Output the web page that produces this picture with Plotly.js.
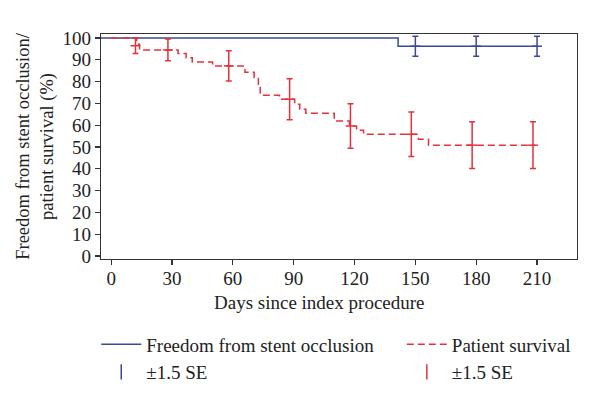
<!DOCTYPE html>
<html>
<head>
<meta charset="utf-8">
<script src="https://cdn.plot.ly/plotly-3.0.1.min.js"></script>
<style>
  html, body { margin: 0; padding: 0; background: #fff; }
  #chart { width: 600px; height: 401px; }
</style>
</head>
<body>
<div id="chart"></div>
<script>
// Kaplan-Meier style step curves (days, %)
var occlusionDays = [-5, 141.5, 210];
var occlusionFree = [100, 96.2, 96.2];
var occlusionSeDays = [150, 180, 210];
var occlusionSeMid = [96.2, 96.2, 96.2];
var occlusionSe = [4.6, 4.6, 4.6];

var survivalDays = [0, 12.6, 14, 33, 37, 40, 50, 66, 70.5, 72.6, 73.5, 83, 90.5, 93, 96, 110, 117.5, 121, 124.5, 151.5, 156.5, 209];
var survival = [100, 97.1, 94.5, 92.8, 90.9, 88.9, 87.1, 84.2, 81.9, 78.8, 73.7, 71.9, 69.6, 67.3, 65.5, 61.9, 59.6, 57.6, 55.8, 53.5, 50.8, 50.8];
var survivalSeDays = [12, 28, 58, 88, 118, 148, 178, 208];
var survivalSeMid = [96.4, 94.5, 87.2, 71.9, 59.6, 55.8, 50.8, 50.8];
var survivalSe = [3.6, 5, 6.9, 9.4, 10.2, 10.2, 10.7, 10.7];

var blue = 'rgb(58,72,155)';
var red = 'rgb(228,50,60)';
var ink = '#222';
var serif = 'Liberation Serif, Times New Roman, serif';

var data = [
  { type: 'scatter', mode: 'lines', x: occlusionDays, y: occlusionFree,
    line: {shape: 'hv', color: blue, width: 1.5},
    name: 'Freedom from stent occlusion', legend: 'legend' },
  { type: 'scatter', mode: 'lines', x: survivalDays, y: survival,
    line: {shape: 'hv', color: red, width: 1.5, dash: '7px,4px'},
    name: 'Patient survival', legend: 'legend2' },
  { type: 'scatter', mode: 'markers', x: occlusionSeDays, y: occlusionSeMid,
    marker: {symbol: 'line-ew-open', size: 7, color: blue, line: {color: blue, width: 1.5}},
    error_y: {type: 'data', array: occlusionSe, color: blue, thickness: 1.5, width: 3},
    showlegend: false },
  { type: 'scatter', mode: 'markers', x: survivalSeDays, y: survivalSeMid,
    marker: {symbol: 'line-ew-open', size: 7, color: red, line: {color: red, width: 1.5}},
    error_y: {type: 'data', array: survivalSe, color: red, thickness: 1.5, width: 3},
    showlegend: false },
  // legend-only entries for the error bars
  { type: 'scatter', mode: 'markers', x: [null], y: [null], name: '\u00b11.5 SE', legend: 'legend',
    marker: {symbol: 'line-ns-open', size: 11, color: blue, line: {color: blue, width: 1.5}} },
  { type: 'scatter', mode: 'markers', x: [null], y: [null], name: '\u00b11.5 SE', legend: 'legend2',
    marker: {symbol: 'line-ns-open', size: 11, color: red, line: {color: red, width: 1.5}} }
];

var legendBase = {
  orientation: 'v', xanchor: 'left', y: -0.295, yanchor: 'top',
  traceorder: 'normal', itemwidth: 40, tracegroupgap: 0,
  font: {family: serif, size: 19, color: ink}, bgcolor: 'rgba(0,0,0,0)'
};

var layout = {
  width: 600,
  height: 401,
  margin: {l: 101, r: 23, t: 34, b: 142, autoexpand: false},
  paper_bgcolor: '#fff',
  plot_bgcolor: '#fff',
  font: {family: serif, size: 19, color: ink},
  showlegend: true,
  legend: Object.assign({}, legendBase, {x: -0.01}),
  legend2: Object.assign({}, legendBase, {x: 0.632}),
  xaxis: {
    range: [-5, 229.7], tickvals: [0, 30, 60, 90, 120, 150, 180, 210],
    ticks: 'outside', ticklen: 5, tickwidth: 1.2, tickcolor: '#333',
    ticklabelstandoff: -3,
    showline: true, linecolor: '#333', linewidth: 1.3, mirror: true,
    showgrid: false, zeroline: false,
    tickfont: {family: serif, size: 19, color: ink}
  },
  yaxis: {
    range: [-1.4, 101.8], tickvals: [0, 10, 20, 30, 40, 50, 60, 70, 80, 90, 100],
    ticks: 'outside', ticklen: 5, tickwidth: 1.2, tickcolor: '#333',
    showline: true, linecolor: '#333', linewidth: 1.3, mirror: true,
    showgrid: false, zeroline: false,
    tickfont: {family: serif, size: 19, color: ink},
    title: {text: 'Freedom from stent occlusion/<br>patient survival (%)', standoff: 4,
            font: {family: serif, size: 18.5, color: ink}}
  },
  annotations: [{
    text: 'Days since index procedure', xref: 'paper', yref: 'paper',
    x: 0.46, y: -0.193, xanchor: 'center', yanchor: 'middle', showarrow: false,
    font: {family: serif, size: 19, color: ink}
  }]
};

Plotly.newPlot('chart', data, layout, {displayModeBar: false, staticPlot: true});
</script>
</body>
</html>
